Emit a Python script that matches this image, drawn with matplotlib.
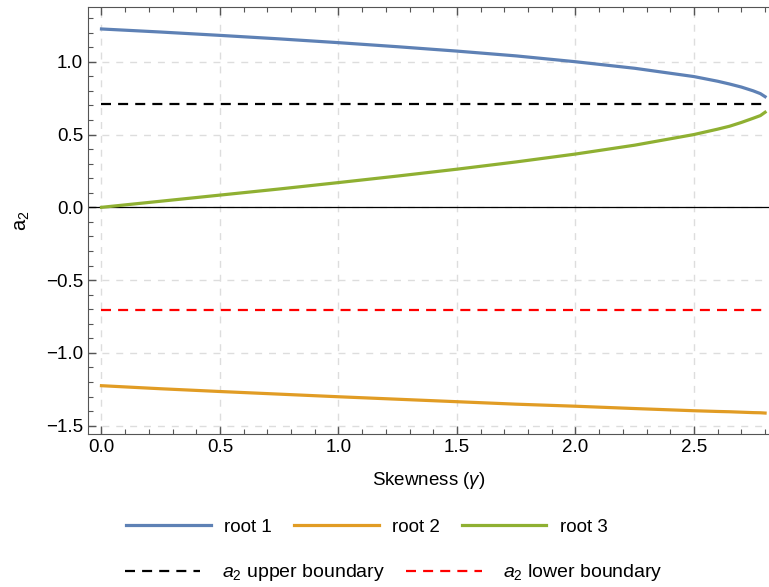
import matplotlib
matplotlib.use('Agg')
import matplotlib.pyplot as plt
from matplotlib.ticker import MultipleLocator, FuncFormatter
import numpy as np

plt.rcParams['font.family'] = ['Liberation Sans', 'DejaVu Sans']
plt.rcParams['mathtext.fontset'] = 'custom'
plt.rcParams['mathtext.rm'] = 'Liberation Sans'
plt.rcParams['mathtext.it'] = 'Liberation Sans:italic'

## values
gamma = [0.0, 0.25, 0.5, 0.75, 1.0, 1.25, 1.5, 1.75, 2.0, 2.25, 2.5, 2.6, 2.65, 2.7, 2.75, 2.78, 2.8]
root1 = [1.225, 1.204, 1.181, 1.157, 1.131, 1.103, 1.073, 1.040, 1.000, 0.955, 0.898, 0.866, 0.847, 0.826, 0.800, 0.781, 0.760]
root2 = [-1.225, -1.246, -1.265, -1.283, -1.301, -1.318, -1.335, -1.352, -1.366, -1.382, -1.397, -1.402, -1.404, -1.407, -1.410, -1.411, -1.413]
root3 = [0.0, 0.042, 0.084, 0.126, 0.170, 0.215, 0.262, 0.312, 0.366, 0.427, 0.500, 0.537, 0.557, 0.583, 0.612, 0.630, 0.653]
bound_x = [0.0, 2.8]
upper_bound = [0.707, 0.707]
lower_bound = [-0.707, -0.707]

fs = 13.5

def fmt(v, p):
    return ('%.1f' % v).replace('-', '\u2212')

fig = plt.figure(figsize=(7.69, 5.87), dpi=100)
ax = fig.add_axes([0.1144, 0.2606, 0.8856, 0.727])

ax.grid(True, which='major', color='#DDDDDD', lw=1.0, ls=(0, (5, 5)), zorder=0.5)
ax.axhline(0, color='black', lw=0.9, zorder=2)
l1, = ax.plot(gamma, root1, color='#5E81B5', lw=2.3, label='root 1', zorder=4)
l2, = ax.plot(gamma, root2, color='#E19C24', lw=2.3, label='root 2', zorder=4)
l3, = ax.plot(gamma, root3, color='#8FB032', lw=2.3, label='root 3', zorder=4)
l4, = ax.plot(bound_x, upper_bound, color='black', lw=1.6, dashes=(4.5, 3.2),
              label=r'$a_2$ upper boundary', zorder=3)
l5, = ax.plot(bound_x, lower_bound, color='#FF0000', lw=1.6, dashes=(4.5, 3.2),
              label=r'$a_2$ lower boundary', zorder=3)
ax.set_axisbelow(True)

ax.set_xlim(-0.057, 2.8165)
ax.set_ylim(-1.557, 1.374)
ax.xaxis.set_major_locator(MultipleLocator(0.5))
ax.xaxis.set_minor_locator(MultipleLocator(0.1))
ax.yaxis.set_major_locator(MultipleLocator(0.5))
ax.yaxis.set_minor_locator(MultipleLocator(0.1))
ax.xaxis.set_major_formatter(FuncFormatter(fmt))
ax.yaxis.set_major_formatter(FuncFormatter(fmt))

ax.tick_params(which='both', direction='in', top=True, right=False,
               color='#555555', labelsize=fs)
ax.tick_params(which='major', length=6, width=1.0)
ax.tick_params(which='minor', length=3.5, width=0.8)
for side in ['left', 'bottom', 'top']:
    ax.spines[side].set_color('#555555')
ax.spines['right'].set_visible(False)

ax.set_xlabel(r'Skewness ($\gamma$)', fontsize=fs, labelpad=10)
ax.set_ylabel(r'$\mathregular{a_2}$', fontsize=fs + 1, labelpad=10)

leg1 = fig.legend(handles=[l1, l2, l3], loc='center', bbox_to_anchor=(0.477, 0.102),
                  ncol=3, frameon=False, fontsize=fs, handlelength=4.5,
                  handletextpad=0.7, columnspacing=1.2)
leg2 = fig.legend(handles=[l4, l5], loc='center', bbox_to_anchor=(0.512, 0.024),
                  ncol=2, frameon=False, fontsize=fs + 0.5, handlelength=3.9,
                  handletextpad=1.1, columnspacing=1.1)

fig.savefig('out.png', dpi=100)
